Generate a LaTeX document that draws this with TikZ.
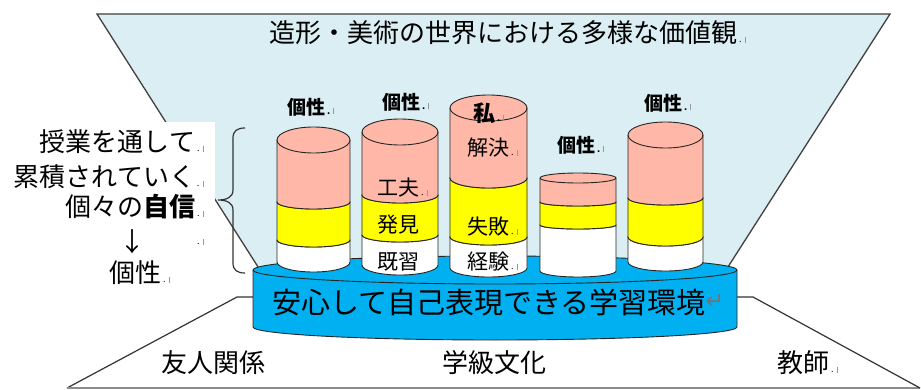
\documentclass[tikz,border=0pt]{standalone}
\usepackage{fontspec}
\setmainfont{Noto Sans CJK JP}
\newfontfamily\djv{DejaVu Sans}
\definecolor{skyl}{HTML}{DAEEF3}
\definecolor{platb}{HTML}{00B0F0}
\definecolor{canpink}{HTML}{FFB8A8}
\definecolor{canyel}{HTML}{FFFF00}
\newcommand\parmk{\makebox[12pt][l]{\hspace{2pt}{\fontsize{9}{9}\selectfont .}\hspace{3pt}\textcolor{black!40}{\rule{0.7pt}{6pt}}}}
% cx, rx, ytop, rytop, ybot, rybot, colour
\newcommand\drawcan[7]{%
 \filldraw[canline,fill=#7]
  (#1-#2,#3) -- (#1-#2,#5)
  .. controls (#1-#2,#5+0.5523*#6) and (#1-0.5523*#2,#5+#6) .. (#1,#5+#6)
  .. controls (#1+0.5523*#2,#5+#6) and (#1+#2,#5+0.5523*#6) .. (#1+#2,#5)
  -- (#1+#2,#3)
  .. controls (#1+#2,#3-0.5523*#4) and (#1+0.5523*#2,#3-#4) .. (#1,#3-#4)
  .. controls (#1-0.5523*#2,#3-#4) and (#1-#2,#3-0.5523*#4) .. (#1-#2,#3) -- cycle;
 \draw[canline] (#1-#2,#3)
  .. controls (#1-#2,#3+0.5523*#4) and (#1-0.5523*#2,#3+#4) .. (#1,#3+#4)
  .. controls (#1+0.5523*#2,#3+#4) and (#1+#2,#3+0.5523*#4) .. (#1+#2,#3);
}
\begin{document}
\begin{tikzpicture}[x=1pt,y=-1pt,
  canline/.style={draw=black!85,line width=0.9pt},
  jp/.style={inner sep=0pt,outer sep=0pt},
  big/.style={jp,font=\fontsize{26}{30}\selectfont},
  plat/.style={jp,font=\fontsize{29}{32}\selectfont},
  lbl/.style={jp,font=\fontsize{21}{24}\selectfont},
  tag/.style={jp,font=\bfseries\fontsize{19}{22}\selectfont},
  edge/.style={black!80,line width=1.2pt}]
\useasboundingbox (0,0) rectangle (921,390);
\fill[white] (0,0) rectangle (921,390);
% top trapezoid
\coordinate (tl) at (97,14);
\coordinate (tr) at (890,14);
\coordinate (bl) at (260,270);
\coordinate (br) at (726,270);
\fill[skyl] (tl) -- (tr) -- (br) -- (bl) -- cycle;
\draw[black!75,line width=1.3pt] (bl) -- (tl) -- (tr) -- (br);
% white text box
\fill[white] (0,122) rectangle (215,292);
% brace
\draw[edge] (245,128) .. controls (237,128) and (233,131) .. (233,138) -- (233,190)
  .. controls (233,197) and (227,200) .. (218,200)
  .. controls (227,200) and (233,203) .. (233,210) -- (233,263)
  .. controls (233,270) and (237,273) .. (245,273);
% bottom trapezoid
\coordinate (pl) at (253,297);
\coordinate (pl2) at (237,297);
\coordinate (bbl) at (67,388);
\coordinate (bbr) at (920,388);
\coordinate (pr2) at (753,297);
\coordinate (pr) at (737,297);
\draw[edge] (pl) -- (pl2) -- (bbl);
\draw[black!45,line width=1.2pt] (bbl) -- (bbr);
\draw[edge] (bbr) -- (pr2) -- (pr);
% platform
\drawcan{495}{242}{270}{14}{327}{13}{platb}
% cylinder 1
\drawcan{313.5}{36.5}{240}{7}{262}{10}{white}
\drawcan{313.5}{36.5}{202}{7}{240}{7}{canyel}
\drawcan{313.5}{36.5}{140}{13}{202}{7}{canpink}
% cylinder 2
\drawcan{400}{38}{235}{7}{265}{10}{white}
\drawcan{400}{38}{195}{8}{235}{7}{canyel}
\drawcan{400}{38}{132}{13}{195}{8}{canpink}
% cylinder 3
\drawcan{488.5}{38.5}{237}{8}{268}{9}{white}
\drawcan{488.5}{38.5}{178}{10}{237}{8}{canyel}
\drawcan{488.5}{38.5}{108}{13}{178}{10}{canpink}
% cylinder 4
\drawcan{578}{38}{225}{4}{271}{6}{white}
\drawcan{578}{38}{202}{4}{225}{4}{canyel}
\drawcan{578}{38}{178}{5}{202}{4}{canpink}
% cylinder 5
\drawcan{665.5}{37.5}{237}{9}{262}{9}{white}
\drawcan{665.5}{37.5}{198}{7}{237}{9}{canyel}
\drawcan{665.5}{37.5}{135}{13}{198}{7}{canpink}
% title
\node[big,anchor=west] (title) at (269,33) {造形・美術の世界における多様な価値観\parmk};
% left text
\node[big,anchor=east] (l1) at (207,142) {授業を通して\parmk};
\node[big,anchor=east] (l2) at (207,177) {累積されていく\parmk};
\node[big,anchor=east] (l3) at (207,207) {個々の{\bfseries 自信}\parmk};
\node[big] (l4) at (132,242) {↓};
\node[jp,anchor=west] (l4m) at (195,242) {\parmk};
\node[big,anchor=west] (l5) at (109,273) {個性\parmk};
% cylinder tags
\node[tag,anchor=west] (t1) at (287,107) {個性\parmk};
\node[tag,anchor=west] (t2) at (382,102) {個性\parmk};
\node[tag,anchor=west] (t4) at (557,145) {個性\parmk};
\node[tag,anchor=west] (t5) at (644,103) {個性\parmk};
% inner labels
\node[lbl,anchor=west] (c2a) at (377,188) {工夫\parmk};
\node[lbl,anchor=west] (c2b) at (377,225) {発見};
\node[lbl,anchor=west] (c2c) at (377,262) {既習};
\node[jp,font=\bfseries\fontsize{22}{24}\selectfont,anchor=west] (c3a) at (473,113) {私\parmk};
\node[lbl,anchor=west] (c3b) at (467,148) {解決\parmk};
\node[lbl,anchor=west] (c3c) at (467,227) {失敗\parmk};
\node[lbl,anchor=west] (c3d) at (467,262) {経験\parmk};
% platform text
\node[plat,anchor=west] (env) at (272,302) {安心して自己表現できる学習環境};
\node[jp,anchor=west,text=black!55,font=\djv\fontsize{22}{24}\selectfont] (ret) at (env.east) {↵};
% bottom labels
\node[big] (f1) at (213.5,363) {友人関係};
\node[big] (f2) at (494.5,363) {学級文化};
\node[big,anchor=west] (f3) at (777,363) {教師\parmk};
\end{tikzpicture}
\end{document}
